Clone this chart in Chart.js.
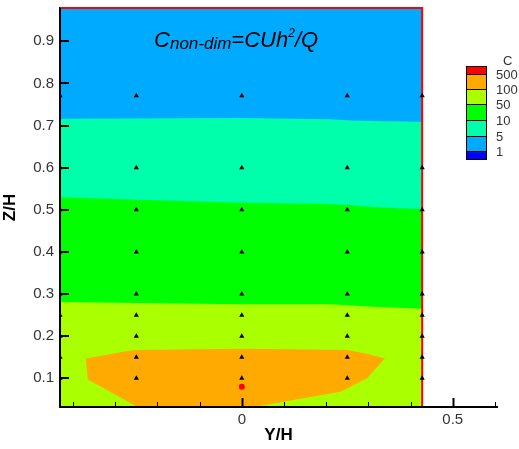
<!DOCTYPE html>
<html>
<head>
<meta charset="utf-8">
<script src="https://cdn.jsdelivr.net/npm/chart.js@4.4.0/dist/chart.umd.min.js"></script>
<style>
  body { margin: 0; background: #fff; }
  #wrap { width: 519px; height: 449px; }
</style>
</head>
<body>
<div id="wrap"><canvas id="myChart" width="519" height="449"></canvas></div>
<script>
// domain edges in Y/H and Z/H
const yLeft = -0.431, yRight = 0.4276;
const zBottom = 0.032, zTop = 0.979;
const yAxisMax = 0.605;

// contour lines, left to right
const c50Y = [-0.431, -0.25, 0, 0.21, 0.31, 0.4276];
const c50Z = [0.281, 0.279, 0.276, 0.276, 0.270, 0.265];
const c10Y = [-0.431, -0.25, 0, 0.21, 0.26, 0.29, 0.37, 0.4276];
const c10Z = [0.530, 0.524, 0.517, 0.514, 0.511, 0.508, 0.504, 0.502];
const c5Y = [-0.431, 0, 0.21, 0.26, 0.35, 0.4276];
const c5Z = [0.716, 0.718, 0.715, 0.712, 0.710, 0.709];
// closed C=100 contour
const c100Y = [-0.370, -0.313, -0.272, -0.25, 0, 0.25, 0.30, 0.339, 0.297, 0.234, 0.027, -0.247, -0.365, -0.370];
const c100Z = [0.147, 0.157, 0.165, 0.167, 0.170, 0.167, 0.158, 0.147, 0.100, 0.068, 0.032, 0.032, 0.097, 0.147];

// sampling points and the source
const probeY = [-0.431, -0.25, 0, 0.25, 0.4276];
const probeZ = [0.771, 0.6, 0.5, 0.4, 0.3, 0.25, 0.2, 0.15, 0.1];
const sourceY = [0];
const sourceZ = [0.08];

// colour levels, top of the legend first
const levelColors = ['#ff0000', '#ffaa00', '#aaff00', '#00ff00', '#00ffaa', '#00aaff', '#0000ff'];
const levelLabels = ['500', '100', '50', '10', '5', '1'];

const xTicks = [-0.4, -0.3, -0.2, -0.1, 0, 0.1, 0.2, 0.3, 0.4, 0.5, 0.6];
const xTickLabels = { '0': '0', '0.5': '0.5' };
const yTicks = [0.1, 0.2, 0.3, 0.4, 0.5, 0.6, 0.7, 0.8, 0.9];

const FONT = '"Liberation Sans", Arial, sans-serif';
const pts = (ys, zs) => ys.map((y, i) => ({ x: y, y: zs[i] }));

const probes = [];
probeY.forEach(y => probeZ.forEach(z => probes.push({ x: y, y: z })));

function band(ys, zs, color, order) {
    return {
        data: pts(ys, zs), backgroundColor: color, borderWidth: 0,
        pointRadius: 0, fill: 'end', tension: 0, order: order
    };
}

// axis lines redrawn over the fills, ticks pointing inward
const innerTicks = {
    id: 'innerTicks',
    afterDatasetsDraw(chart) {
        const { ctx, scales: { x, y } } = chart;
        ctx.save();
        ctx.strokeStyle = '#000';
        ctx.lineWidth = 2;
        ctx.beginPath();
        ctx.moveTo(x.left, y.top);
        ctx.lineTo(x.left, y.bottom);
        ctx.lineTo(x.right, y.bottom);
        ctx.stroke();
        xTicks.forEach(v => {
            const major = xTickLabels[String(v)] !== undefined;
            const px = Math.round(x.getPixelForValue(v)) + 0.5;
            ctx.lineWidth = major ? 2 : 1;
            ctx.beginPath();
            ctx.moveTo(px, y.bottom);
            ctx.lineTo(px, y.bottom - (major ? 9 : 5));
            ctx.stroke();
        });
        ctx.lineWidth = 2;
        yTicks.forEach(v => {
            const py = Math.round(y.getPixelForValue(v));
            ctx.beginPath();
            ctx.moveTo(x.left, py);
            ctx.lineTo(x.left + 9, py);
            ctx.stroke();
        });
        ctx.restore();
    }
};

// formula label and colour key
const annotations = {
    id: 'annotations',
    afterDraw(chart) {
        const { ctx, scales: { x, y } } = chart;
        ctx.save();
        ctx.fillStyle = '#000';
        ctx.textBaseline = 'alphabetic';
        let tx = x.getPixelForValue(-0.208);
        const ty = y.getPixelForValue(0.8865);
        const big = 'italic 22px ' + FONT;
        const sub = 'italic 17px ' + FONT;
        const sup = 'italic 12px ' + FONT;
        const parts = [['C', big, 0], ['non-dim', sub, 2], ['=CUh', big, 0], ['2', sup, -10], ['/Q', big, 0]];
        parts.forEach(([t, f, dy]) => {
            ctx.font = f;
            ctx.fillText(t, tx, ty + dy);
            tx += ctx.measureText(t).width;
        });

        // colour key
        const kx = 466, kw = 20;
        const rows = [66, 74, 89, 104, 120, 136, 151, 159];
        levelColors.forEach((c, i) => {
            ctx.fillStyle = c;
            ctx.fillRect(kx, rows[i], kw, rows[i + 1] - rows[i]);
            ctx.strokeStyle = '#000';
            ctx.lineWidth = 1;
            ctx.strokeRect(kx + 0.5, rows[i] + 0.5, kw, rows[i + 1] - rows[i]);
        });
        ctx.fillStyle = '#333';
        ctx.font = '13px ' + FONT;
        ctx.textBaseline = 'middle';
        ctx.fillText('C', 503, 61);
        levelLabels.forEach((t, i) => ctx.fillText(t, 496, rows[i + 1] + 1.5));
        ctx.restore();
    }
};

new Chart(document.getElementById('myChart'), {
    type: 'line',
    data: {
        datasets: [
            { data: probes, showLine: false, pointStyle: 'triangle', pointRadius: 3,
              pointBackgroundColor: '#000', pointBorderWidth: 0, order: 1 },
            { data: pts(sourceY, sourceZ), showLine: false, pointRadius: 3,
              pointBackgroundColor: '#ff0000', pointBorderWidth: 0, order: 0 },
            { data: pts([yLeft, yRight, yRight], [zTop, zTop, zBottom]), borderColor: '#ff0000',
              borderWidth: 2, pointRadius: 0, fill: false, clip: false, order: 2 },
            { data: pts(c100Y, c100Z), backgroundColor: levelColors[1], borderWidth: 0,
              pointRadius: 0, fill: 'shape', order: 3 },
            band(c5Y, c5Z, levelColors[5], 4),
            band(c10Y, c10Z, levelColors[4], 5),
            band(c50Y, c50Z, levelColors[3], 6),
            band([yLeft, yRight], [zBottom, zBottom], levelColors[2], 7)
        ]
    },
    options: {
        responsive: false,
        animation: false,
        layout: { padding: { top: 8, right: 22, left: 0, bottom: 0 } },
        plugins: { legend: { display: false }, tooltip: { enabled: false } },
        scales: {
            x: {
                type: 'linear', min: yLeft, max: yAxisMax,
                grid: { display: false, drawTicks: false },
                border: { display: true, color: '#000', width: 2 },
                afterBuildTicks: s => { s.ticks = xTicks.map(v => ({ value: v })); },
                afterFit: s => { s.height = 42; s.paddingLeft = 0; s.paddingRight = 0; },
                ticks: {
                    autoSkip: false, maxRotation: 0, padding: 4, color: '#333',
                    font: { family: FONT, size: 15 },
                    callback: v => xTickLabels[String(Math.round(v * 10) / 10)] || ''
                },
                title: {
                    display: true, text: 'Y/H', color: '#000', padding: { top: 0, bottom: 3 },
                    font: { family: FONT, size: 17, weight: 'bold' }
                }
            },
            y: {
                type: 'linear', min: zBottom, max: zTop,
                grid: { display: false, drawTicks: false },
                border: { display: true, color: '#000', width: 2 },
                afterBuildTicks: s => { s.ticks = yTicks.map(v => ({ value: v })); },
                afterFit: s => { s.width = 60; s.paddingTop = 0; s.paddingBottom = 0; },
                ticks: {
                    autoSkip: false, padding: 6, color: '#333',
                    font: { family: FONT, size: 15 },
                    callback: v => v.toFixed(1)
                },
                title: {
                    display: true, text: 'Z/H', color: '#000', padding: { top: 0, bottom: 9 },
                    font: { family: FONT, size: 17, weight: 'bold' }
                }
            }
        }
    },
    plugins: [innerTicks, annotations]
});
</script>
</body>
</html>
